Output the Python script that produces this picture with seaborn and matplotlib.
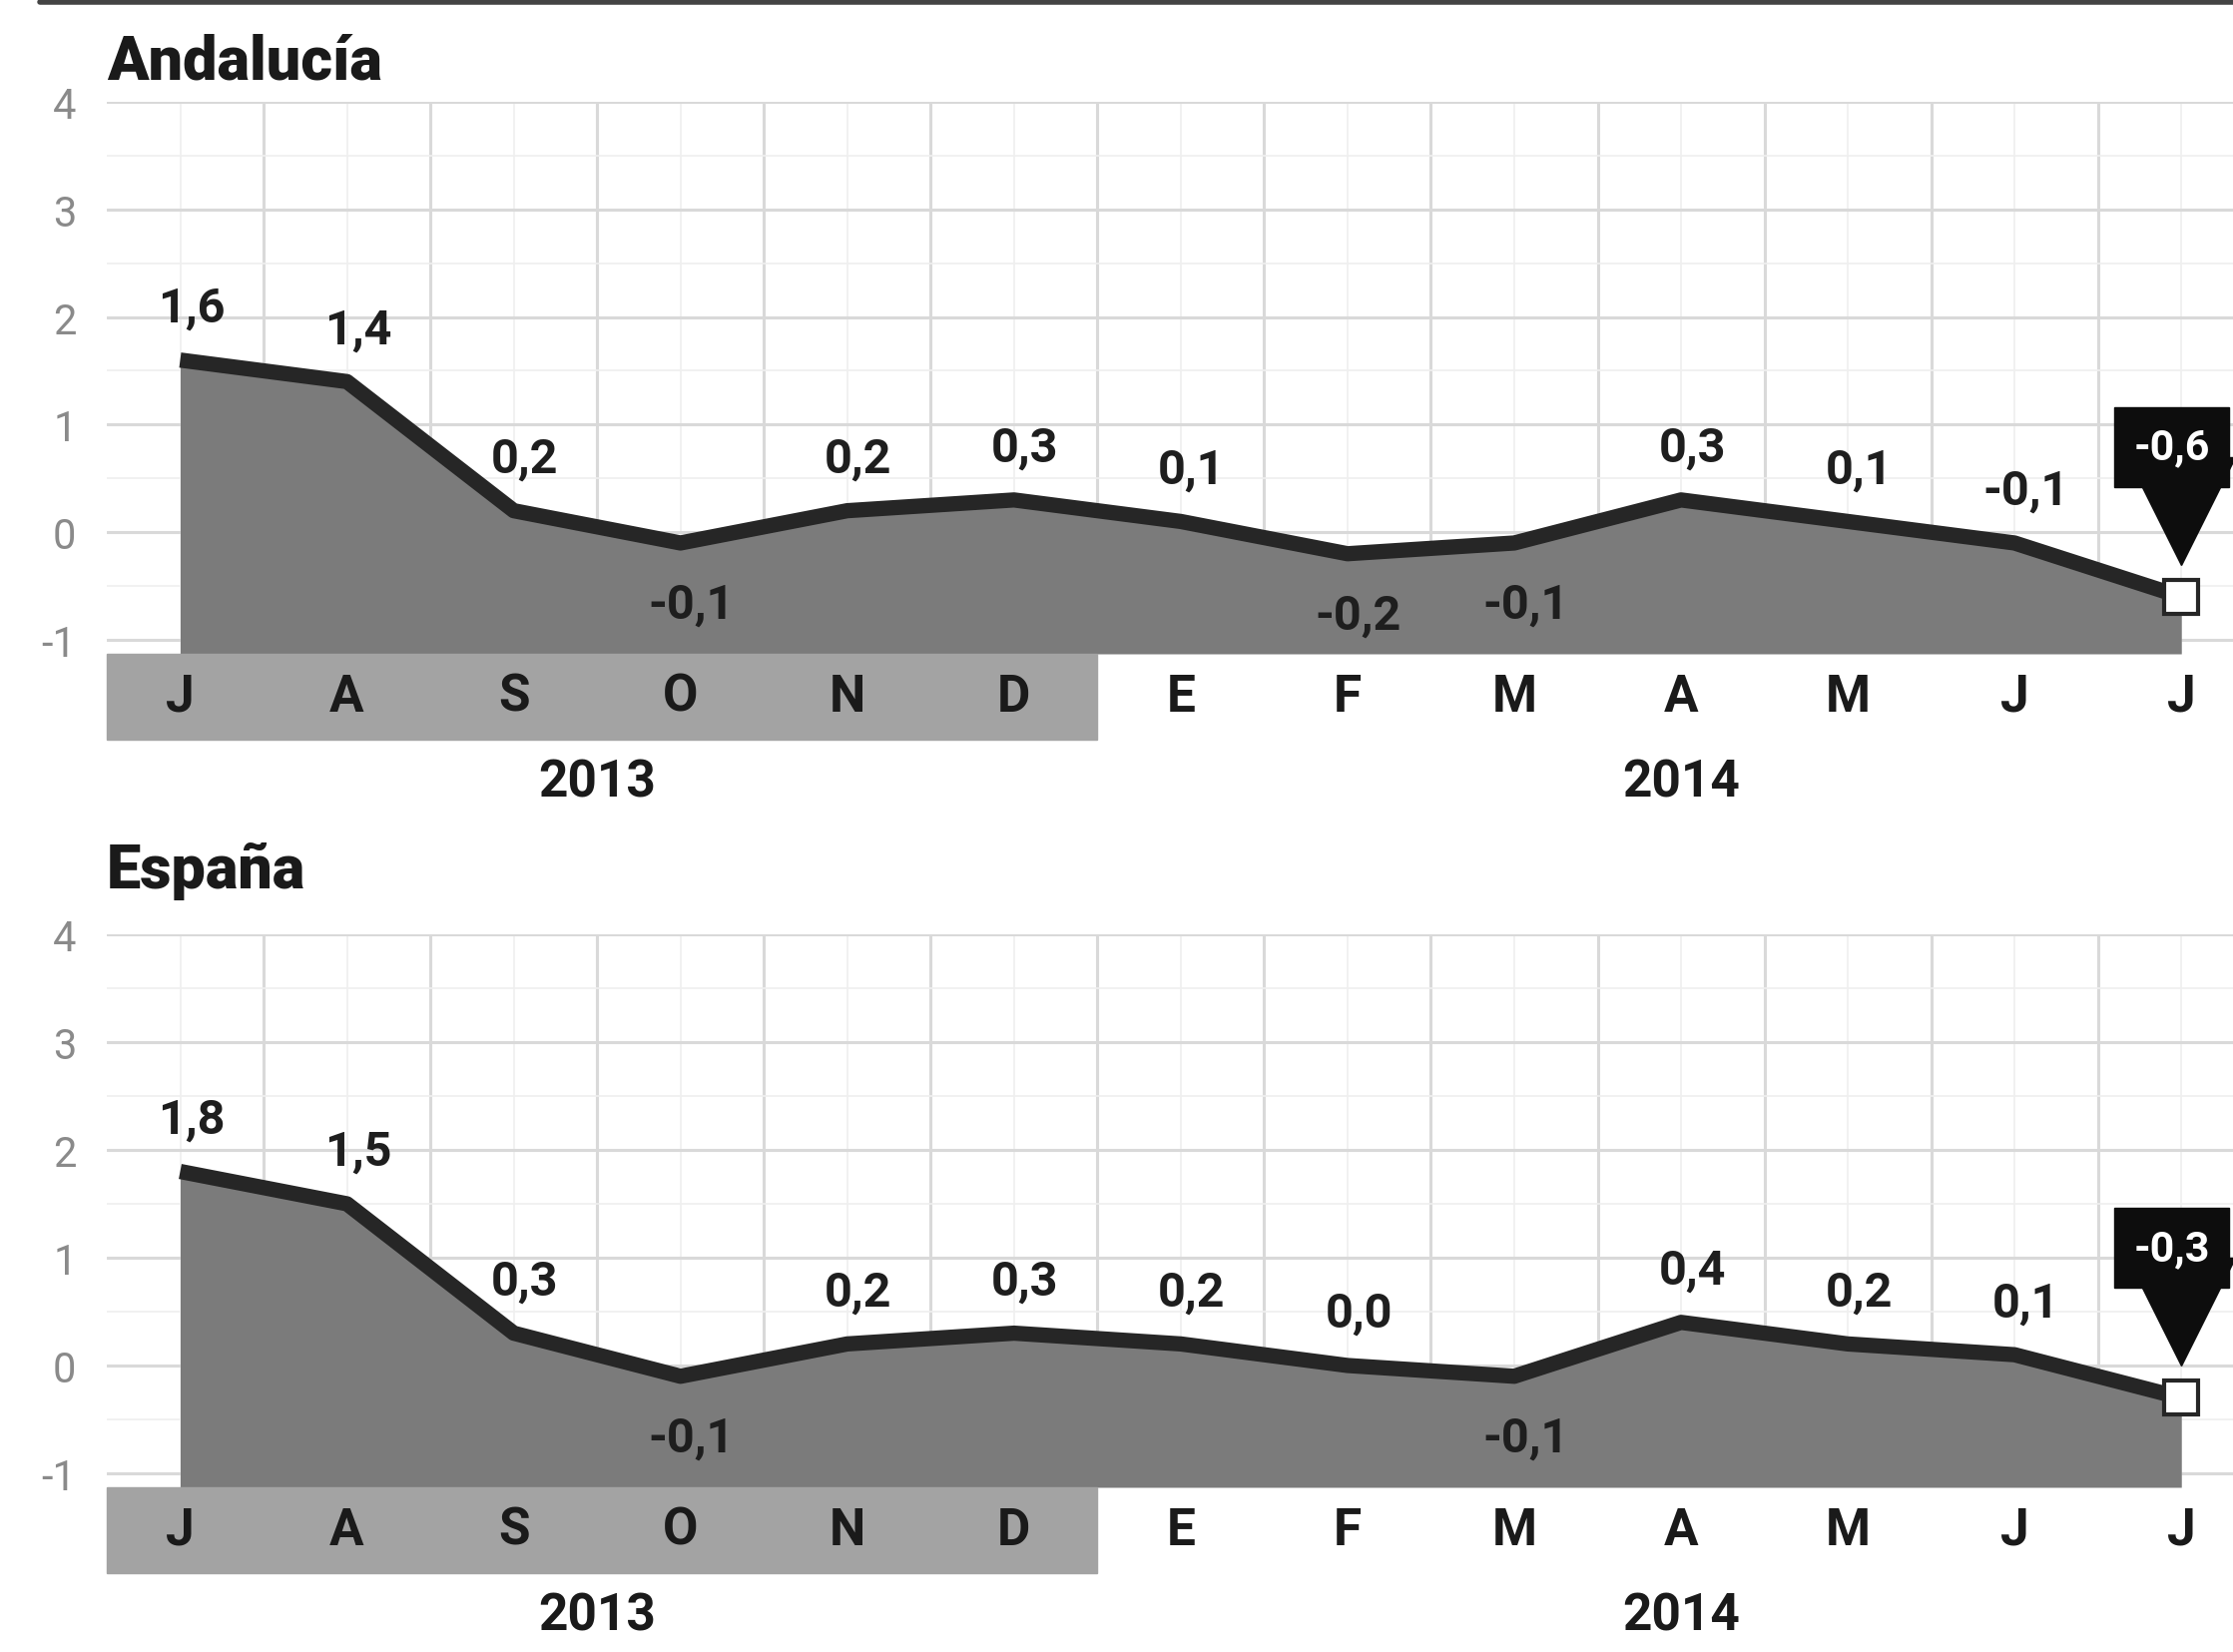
import matplotlib
matplotlib.use("Agg")
import matplotlib.pyplot as plt
import matplotlib.transforms as mtransforms
from matplotlib.patches import Rectangle
from matplotlib.lines import Line2D
import seaborn as sns
import pandas as pd

# Data
months = ["J", "A", "S", "O", "N", "D", "E", "F", "M", "A", "M", "J", "J"]
years = ["2013", "2014"]
year_span = [(0, 5), (6, 12)]
andalucia = [1.6, 1.4, 0.2, -0.1, 0.2, 0.3, 0.1, -0.2, -0.1, 0.3, 0.1, -0.1, -0.6]
espana = [1.8, 1.5, 0.3, -0.1, 0.2, 0.3, 0.2, 0.0, -0.1, 0.4, 0.2, 0.1, -0.3]
below_andalucia = [3, 7, 8]
below_espana = [3, 8]

sns.set_style("white")
plt.rcParams['font.family'] = ['Roboto', 'DejaVu Sans']

FILL = "#7b7b7b"
LINE = "#262626"
BAND = "#a3a3a3"
GRID = "#d9d9d9"
PX = 72 / 100  # points per pixel at dpi 100

fig = plt.figure(figsize=(22.37, 16.56), dpi=100)
H = 1656.0


def fmt(v):
    return f"{v:.1f}".replace(".", ",")


def panel(top_px, bottom_px, title, title_px, values, below):
    ax = fig.add_axes([107 / 2237, 1 - bottom_px / H, 1 - 107 / 2237, (bottom_px - top_px) / H])
    df = pd.DataFrame({"x": range(len(values)), "y": values})
    ymin = -1.13
    ax.set_xlim(-0.44, 12.31)
    ax.set_ylim(ymin, 4.0)

    # grid
    for gx in [i + 0.5 for i in range(-1, 13)]:
        ax.axvline(gx, color=GRID, lw=2.2, zorder=0)
    for gx in range(13):
        ax.axvline(gx, color="#efefef", lw=1.2, zorder=0)
    for gy in range(-1, 5):
        ax.axhline(gy, color=GRID, lw=2.2, zorder=0)
    for gy in [-0.5, 0.5, 1.5, 2.5, 3.5]:
        ax.axhline(gy, color="#efefef", lw=1.2, zorder=0)

    ax.fill_between(df["x"], df["y"], ymin, color=FILL, lw=0, zorder=1)
    sns.lineplot(data=df, x="x", y="y", ax=ax, color=LINE, lw=11,
                 solid_joinstyle="round", solid_capstyle="butt", zorder=3)
    # last point marker
    ax.plot(df["x"].iloc[-1], df["y"].iloc[-1], marker="s", ms=24, mfc="white",
            mec=LINE, mew=3, zorder=5, clip_on=False)

    # value labels
    n = len(values)
    for i, v in enumerate(values[:-1]):
        dy = -62 * PX if i in below else 52 * PX
        ax.annotate(fmt(v), (i, v), xytext=(8, dy), textcoords="offset points",
                    ha="center", va="center", fontsize=35, fontweight="bold",
                    color="#1e1e1e", zorder=6)
    # black callout for latest value
    xl, yl = n - 1, values[-1]
    tri = mtransforms.offset_copy(ax.transData, fig=fig, x=0, y=86 * PX, units="points")
    ax.plot([xl], [yl], marker="v", ms=78, color="#0d0d0d", transform=tri,
            zorder=6, clip_on=False)
    ax.annotate(fmt(yl), (xl, yl), xytext=(-7, 150 * PX), textcoords="offset points",
                ha="center", va="center", fontsize=31, fontweight="bold", color="white",
                zorder=7,
                bbox=dict(boxstyle="square,pad=0.45", fc="#0d0d0d", ec="#0d0d0d"))

    # month band and labels
    trans = mtransforms.blended_transform_factory(ax.transData, ax.transAxes)
    band_h = 86 / (bottom_px - top_px)
    ax.add_patch(Rectangle((-0.44, -band_h), 5.94, band_h, transform=trans,
                           color=BAND, clip_on=False, zorder=1))
    for i, m in enumerate(months):
        ax.annotate(m, (i, 0), xycoords=trans, xytext=(0, -43 * PX),
                    textcoords="offset points", ha="center", va="center",
                    fontsize=37, fontweight="bold", color="#1a1a1a",
                    annotation_clip=False)
    for yr, (a, b) in zip(years, year_span):
        ax.annotate(yr, ((a + b) / 2, 0), xycoords=trans, xytext=(0, -129 * PX),
                    textcoords="offset points", ha="center", va="center",
                    fontsize=37, fontweight="bold", color="#1a1a1a",
                    annotation_clip=False)

    ax.set_yticks(range(-1, 5))
    ax.set_yticklabels([str(t) for t in range(-1, 5)], fontsize=30, color="#8a8a8a")
    ax.tick_params(axis="y", length=0, pad=22)
    ax.set_xticks([])
    ax.set_xlabel("")
    ax.set_ylabel("")
    sns.despine(ax=ax, left=True, bottom=True)

    fig.text(107 / 2237, 1 - title_px / H, title, fontsize=44,
             fontweight="black", color="#1a1a1a", va="center", ha="left")
    return ax


panel(103, 656, "Andalucía", 62, andalucia, below_andalucia)
panel(937, 1491, "España", 873, espana, below_espana)

fig.add_artist(Line2D([40 / 2237, 1], [1 - 3 / H, 1 - 3 / H], color="#444444", lw=4))

fig.savefig("out.png", dpi=100)
